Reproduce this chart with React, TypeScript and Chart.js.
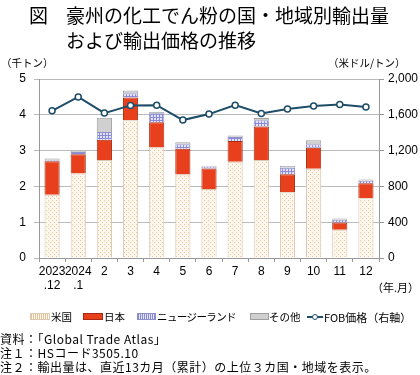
import React, { useEffect, useRef } from "react";
import { Chart, registerables } from "chart.js";
Chart.register(...registerables);

const categories: string[][] = [["2023", ".12"], ["2024", ".1"], ["2"], ["3"], ["4"], ["5"], ["6"], ["7"], ["8"], ["9"], ["10"], ["11"], ["12"]];
const usa = [1.77, 2.36, 2.74, 3.85, 3.09, 2.33, 1.93, 2.69, 2.74, 1.84, 2.49, 0.79, 1.67];
const japan = [0.93, 0.54, 0.56, 0.63, 0.70, 0.72, 0.57, 0.58, 0.93, 0.50, 0.59, 0.20, 0.42];
const newZealand = [0.03, 0.06, 0.22, 0.12, 0.25, 0.13, 0.05, 0.11, 0.18, 0.19, 0.10, 0.08, 0.07];
const others = [0.05, 0.03, 0.40, 0.08, 0.04, 0.05, 0.03, 0.04, 0.06, 0.04, 0.11, 0.03, 0.03];
const fobPrice = [1645, 1800, 1619, 1705, 1708, 1541, 1608, 1708, 1615, 1664, 1697, 1716, 1686];
const leftTicks = [0, 1, 2, 3, 4, 5];
const rightTicks = [0, 400, 800, 1200, 1600, 2000];

const FONT = "'Liberation Sans', 'Noto Sans CJK JP', sans-serif";
const JFONT = "'Noto Sans CJK JP', sans-serif";

function makePattern(kind: string): CanvasPattern | string {
  const c = document.createElement("canvas");
  const ctx = c.getContext("2d")!;
  if (kind === "dots") {
    c.width = 4; c.height = 4;
    ctx.fillStyle = "#fdf7ee"; ctx.fillRect(0, 0, 4, 4);
    ctx.fillStyle = "#e9c49a";
    ctx.fillRect(0, 0, 1, 1); ctx.fillRect(2, 2, 1, 1);
  } else {
    c.width = 3; c.height = 3;
    ctx.fillStyle = "#e4e4f8"; ctx.fillRect(0, 0, 3, 3);
    ctx.fillStyle = "#8a8ad8";
    ctx.fillRect(0, 0, 3, 1); ctx.fillRect(0, 0, 1, 3);
  }
  return ctx.createPattern(c, "repeat")!;
}

export default function App() {
  const ref = useRef<HTMLCanvasElement>(null);
  useEffect(() => {
    const dots = makePattern("dots");
    const grid = makePattern("grid");
    const chart = new Chart(ref.current!, {
      type: "bar",
      data: {
        labels: categories,
        datasets: [
          { type: "line", label: "FOB価格（右軸）", data: fobPrice, yAxisID: "y1", order: 0, borderColor: "#1d4d68", borderWidth: 2, pointRadius: 3, pointBackgroundColor: "#ffffff", pointBorderColor: "#1d4d68", pointBorderWidth: 1.5, tension: 0 } as any,
          { label: "米国", data: usa, backgroundColor: dots as any, borderColor: "#d8c8b4", borderWidth: 1, stack: "s", order: 1, barPercentage: 0.58, categoryPercentage: 1 },
          { label: "日本", data: japan, backgroundColor: "#e8401c", borderColor: "#a82a10", borderWidth: 1, stack: "s", order: 1, barPercentage: 0.58, categoryPercentage: 1 },
          { label: "ニュージーランド", data: newZealand, backgroundColor: grid as any, borderColor: "#9090c8", borderWidth: 1, stack: "s", order: 1, barPercentage: 0.58, categoryPercentage: 1 },
          { label: "その他", data: others, backgroundColor: "#d0d0d0", borderColor: "#a0a0a0", borderWidth: 1, stack: "s", order: 1, barPercentage: 0.58, categoryPercentage: 1 },
        ],
      },
      options: {
        animation: false,
        responsive: false,
        layout: { padding: { top: 79, left: 0, right: 0, bottom: 77 } },
        plugins: { legend: { display: false }, tooltip: { enabled: false } },
        scales: {
          x: {
            stacked: true,
            grid: { offset: true, drawOnChartArea: false, tickLength: 4, color: "#999999" },
            border: { color: "#999999" },
            ticks: { font: { family: FONT, size: 12 }, color: "#000", padding: 2, maxRotation: 0, autoSkip: false },
            afterFit: (s: any) => { s.height = 40; },
          },
          y: {
            stacked: true,
            min: 0, max: 5,
            afterBuildTicks: (s: any) => { s.ticks = leftTicks.map((v) => ({ value: v })); },
            grid: { color: "#bbbbbb", tickLength: 5 },
            border: { color: "#999999" },
            ticks: { font: { family: FONT, size: 12 }, color: "#000", padding: 8 },
            afterFit: (s: any) => { s.width = 39; },
          },
          y1: {
            position: "right",
            min: 0, max: 2000,
            afterBuildTicks: (s: any) => { s.ticks = rightTicks.map((v) => ({ value: v })); },
            grid: { drawOnChartArea: false, tickLength: 5, color: "#999999" },
            border: { color: "#999999" },
            ticks: { font: { family: FONT, size: 12 }, color: "#000", padding: 4, callback: (v: any) => Number(v).toLocaleString("en-US") },
            afterFit: (s: any) => { s.width = 41; },
          },
        },
      },
    });
    return () => chart.destroy();
  }, []);

  const abs = (x: number, y: number, extra: any = {}) => ({ position: "absolute" as const, left: x, top: y, whiteSpace: "nowrap" as const, ...extra });
  const lg = { fontSize: 10.5, fontFamily: JFONT, lineHeight: "16px" };
  const note = { fontSize: 12, lineHeight: "14px", letterSpacing: "0.5px" };
  return (
    <div style={{ position: "fixed", left: 0, top: 0, width: 420, height: 375, background: "#fff", color: "#000", fontFamily: JFONT, overflow: "hidden" }}>
      <canvas ref={ref} width={420} height={375} style={{ position: "absolute", left: 0, top: 0 }} />
      <div style={abs(29, 2, { fontSize: 19, lineHeight: "25px" })}>図</div>
      <div style={abs(66, 2, { fontSize: 19, lineHeight: "25px" })}>豪州の化工でん粉の国・地域別輸出量</div>
      <div style={abs(66, 27, { fontSize: 19, lineHeight: "25px" })}>および輸出価格の推移</div>
      <div style={abs(1, 56, { fontSize: 10.5, lineHeight: "14px" })}>（千トン）</div>
      <div style={abs(328, 56, { fontSize: 10.5, lineHeight: "14px" })}>（米ドル/トン）</div>
      <div style={abs(372, 280, { fontSize: 11, lineHeight: "14px" })}>（年.月）</div>

      <div style={abs(30, 313, { width: 18, height: 5, border: "1px solid #d8c8b4", background: "repeating-linear-gradient(90deg,#e9c49a 0 1px,#fdf7ee 1px 2px)" })} />
      <div style={abs(51, 309, lg)}>米国</div>
      <div style={abs(83, 313, { width: 18, height: 5, border: "1px solid #a82a10", background: "#e8401c" })} />
      <div style={abs(104, 309, lg)}>日本</div>
      <div style={abs(137, 313, { width: 17, height: 5, border: "1px solid #9090c8", background: "repeating-linear-gradient(90deg,#8a8ad8 0 1px,#e4e4f8 1px 2px)" })} />
      <div style={abs(157, 309, { ...lg, letterSpacing: "-0.6px" })}>ニュージーランド</div>
      <div style={abs(250, 313, { width: 17, height: 5, border: "1px solid #a0a0a0", background: "#d0d0d0" })} />
      <div style={abs(269, 309, lg)}>その他</div>
      <div style={abs(307, 316, { width: 16, height: 2, background: "#1d4d68" })} />
      <div style={abs(312, 314, { width: 6, height: 6, borderRadius: "50%", border: "1.5px solid #1d4d68", background: "#fff", boxSizing: "border-box" })} />
      <div style={abs(324, 309, { ...lg, fontSize: 11 })}>FOB価格（右軸）</div>

      <div style={abs(0, 332, note)}>資料：「Global Trade Atlas」</div>
      <div style={abs(0, 346, note)}>注１：HSコード3505.10</div>
      <div style={abs(0, 360, note)}>注２：輸出量は、直近13カ月（累計）の上位３カ国・地域を表示。</div>
    </div>
  );
}
